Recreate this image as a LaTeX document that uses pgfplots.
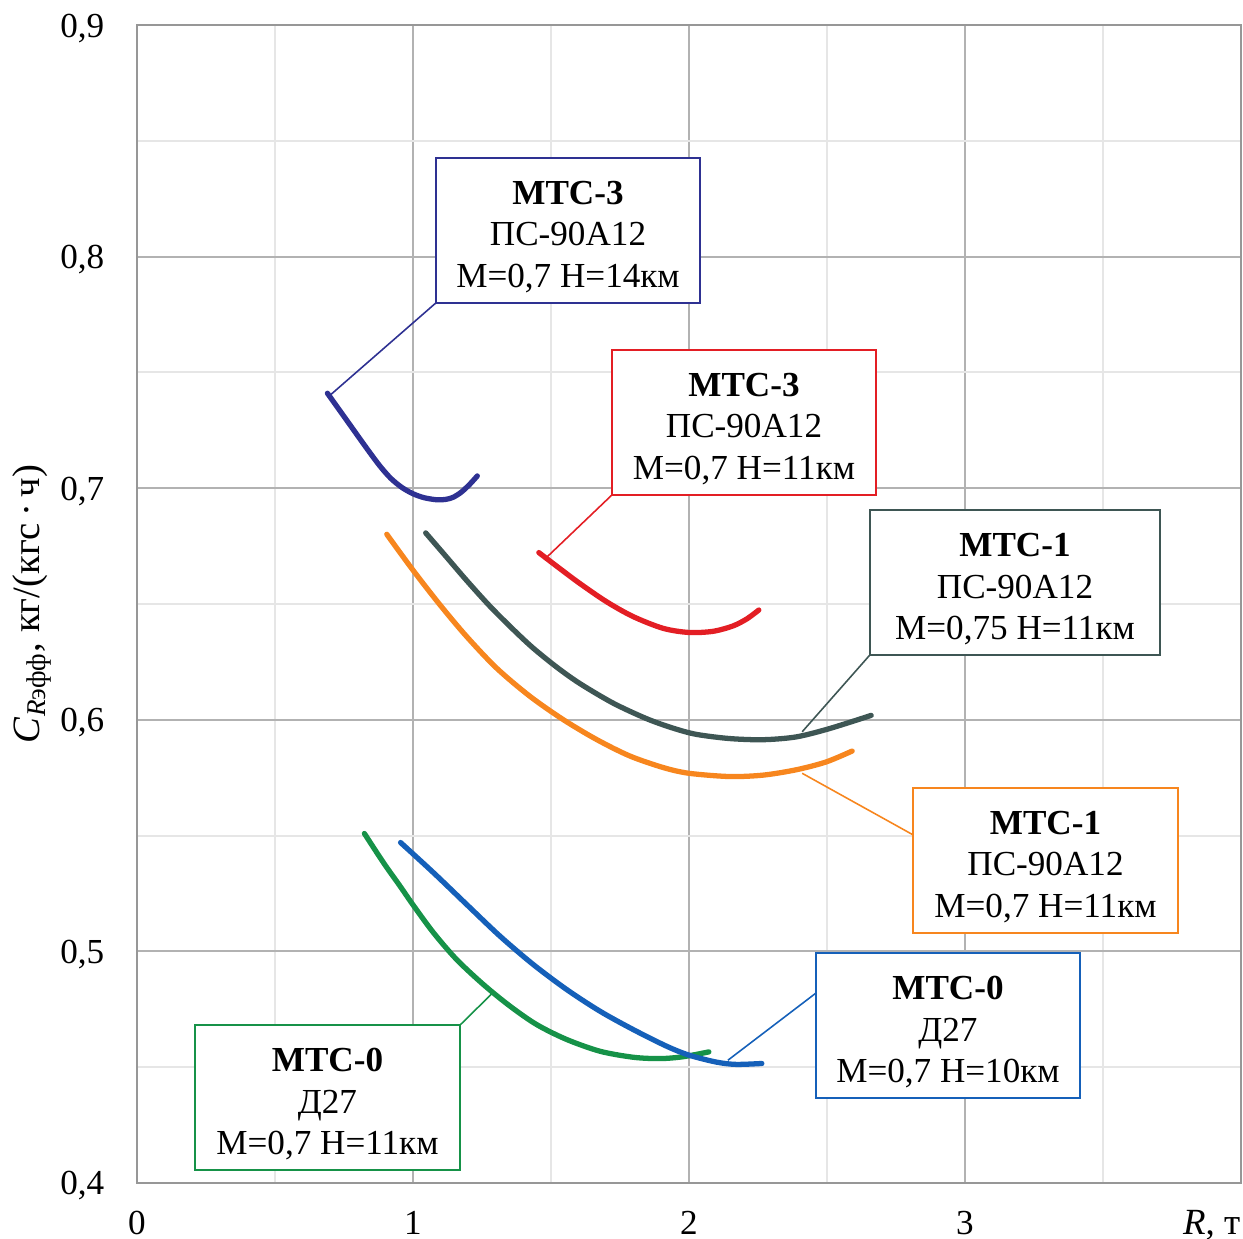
\documentclass[border=0pt]{standalone}
\usepackage{fontspec}
\setmainfont{Liberation Serif}
\usepackage{pgfplots}
\pgfplotsset{compat=1.18}

\definecolor{cnavy}{RGB}{46,49,146}
\definecolor{cred}{RGB}{227,30,36}
\definecolor{cslate}{RGB}{62,86,84}
\definecolor{corange}{RGB}{247,134,30}
\definecolor{cblue}{RGB}{21,96,185}
\definecolor{cgreen}{RGB}{22,146,72}
\definecolor{gmaj}{RGB}{178,178,178}
\definecolor{gmin}{RGB}{230,230,230}

\newcommand\hd{\rule{0pt}{3.65mm}}

\tikzset{
  callout/.style={draw, fill=white, line width=0.55pt, align=center,
    minimum width=26.4mm, minimum height=14.5mm, inner sep=0pt, outer sep=0pt,
    font=\fontsize{10}{11.7}\selectfont},
  pointer/.style={line width=0.45pt},
  curve/.style={line width=1.5pt, smooth, no marks, line cap=round}
}

\begin{document}
\begin{tikzpicture}
\begin{axis}[
  name=ax,
  scale only axis, width=110.4mm, height=115.8mm,
  xmin=0, xmax=4, ymin=0.4, ymax=0.9,
  xtick={0,1,2,3}, ytick={0.4,0.5,0.6,0.7,0.8,0.9},
  minor xtick={0.5,1.5,2.5,3.5},
  minor ytick={0.45,0.55,0.65,0.75,0.85},
  grid=both,
  major grid style={gmaj, line width=0.6pt},
  minor grid style={gmin, line width=0.6pt},
  axis line style={gmaj!85!black, line width=0.7pt},
  major tick length=0pt, minor tick length=0pt,
  /pgf/number format/assume math mode=true,
  tick label style={font=\fontsize{10}{12}\selectfont},
  xticklabel style={anchor=base, inner sep=0pt, yshift=-5.2mm},
  yticklabel style={anchor=base east, inner sep=0pt, xshift=-3.2mm, yshift=-1.2mm,
    /pgf/number format/.cd, fixed, fixed zerofill, precision=1, use comma},
  clip=false,
]

% MTC-3, 14 km (navy)
\addplot[curve, cnavy] coordinates {
 (0.690,0.7410) (0.772,0.7273) (0.830,0.7176) (0.880,0.7096) (0.920,0.7042)
 (0.960,0.7003) (1.000,0.6976) (1.040,0.6959) (1.086,0.6950) (1.120,0.6952)
 (1.146,0.6961) (1.175,0.6983) (1.205,0.7016) (1.233,0.7053)};

% MTC-3, 11 km (red)
\addplot[curve, cred] coordinates {
 (1.456,0.6722) (1.532,0.6653) (1.604,0.6589) (1.701,0.6510) (1.797,0.6446)
 (1.906,0.6395) (2.000,0.6377) (2.087,0.6382) (2.159,0.6405) (2.210,0.6436)
 (2.253,0.6474)};

% MTC-1, M=0.75 (slate)
\addplot[curve, cslate] coordinates {
 (1.046,0.6807) (1.122,0.6702) (1.194,0.6602) (1.279,0.6490) (1.363,0.6390)
 (1.435,0.6310) (1.520,0.6228) (1.604,0.6157) (1.725,0.6072) (1.846,0.6005)
 (1.942,0.5964) (2.027,0.5937) (2.147,0.5919) (2.268,0.5914) (2.388,0.5926)
 (2.509,0.5962) (2.660,0.6019)};

% MTC-1, M=0.7 (orange)
\addplot[curve, corange] coordinates {
 (0.905,0.6801) (1.000,0.6646) (1.098,0.6496) (1.194,0.6360) (1.303,0.6223)
 (1.423,0.6102) (1.544,0.6001) (1.665,0.5915) (1.785,0.5844) (1.906,0.5794)
 (2.000,0.5769) (2.147,0.5755) (2.268,0.5761) (2.388,0.5784) (2.497,0.5818)
 (2.591,0.5865)};

% MTC-0, 11 km (green)
\addplot[curve, cgreen] coordinates {
 (0.824,0.5509) (0.893,0.5383) (0.953,0.5282) (1.000,0.5201) (1.074,0.5081)
 (1.158,0.4965) (1.255,0.4857) (1.351,0.4764) (1.448,0.4684) (1.556,0.4620)
 (1.677,0.4569) (1.797,0.4543) (1.894,0.4537) (1.978,0.4545) (2.072,0.4566)};

% MTC-0, 10 km (blue)
\addplot[curve, cblue] coordinates {
 (0.955,0.5470) (1.074,0.5340) (1.194,0.5203) (1.315,0.5066) (1.435,0.4944)
 (1.556,0.4836) (1.677,0.4742) (1.797,0.4663) (1.918,0.4591) (2.000,0.4552)
 (2.099,0.4522) (2.171,0.4512) (2.264,0.4516)};

% pointers
\draw[pointer, cnavy] (axis cs:1.083,0.780) -- (axis cs:0.703,0.7405);
\draw[pointer, cred] (axis cs:1.721,0.6971) -- (axis cs:1.483,0.6700);
\draw[pointer, cslate] (axis cs:2.657,0.6282) -- (axis cs:2.410,0.5948);
\draw[pointer, corange] (axis cs:2.812,0.5503) -- (axis cs:2.410,0.5769);
\draw[pointer, cblue] (axis cs:2.460,0.4820) -- (axis cs:2.141,0.4530);
\draw[pointer, cgreen] (axis cs:1.168,0.4679) -- (axis cs:1.289,0.4821);

% callout boxes
\node[callout, draw=cnavy] at (axis cs:1.5616,0.8113)
  {\hd{\bfseries МТС-3}\\ПС-90А12\\М=0,7 Н=14км};
\node[callout, draw=cred] at (axis cs:2.1993,0.7284)
  {\hd{\bfseries МТС-3}\\ПС-90А12\\М=0,7 Н=11км};
\node[callout, draw=cslate, minimum width=29mm] at (axis cs:3.1812,0.6593)
  {\hd{\bfseries МТС-1}\\ПС-90А12\\М=0,75 Н=11км};
\node[callout, draw=corange, minimum width=26.5mm] at (axis cs:3.2917,0.5393)
  {\hd{\bfseries МТС-1}\\ПС-90А12\\М=0,7 Н=11км};
\node[callout, draw=cblue] at (axis cs:2.9384,0.4680)
  {\hd{\bfseries МТС-0}\\Д27\\М=0,7 Н=10км};
\node[callout, draw=cgreen, minimum width=26.5mm] at (axis cs:0.6902,0.4369)
  {\hd{\bfseries МТС-0}\\Д27\\М=0,7 Н=11км};
\end{axis}

% axis labels
\node[rotate=90, inner sep=0pt, font=\fontsize{11}{13}\selectfont]
  at ([xshift=-10.5mm]ax.west)
  {\textit{C}\textsubscript{\textit{R}эфф}, кг/(кгс\,·\,ч)};
\node[anchor=base east, inner sep=0pt, font=\fontsize{10.5}{12}\selectfont]
  at ([yshift=-5.2mm]ax.south east) {\textit{R}, т};

\pgfresetboundingbox
\path (-13.7mm,-5.6mm) rectangle (110.6mm,118.3mm);
\end{tikzpicture}
\end{document}
